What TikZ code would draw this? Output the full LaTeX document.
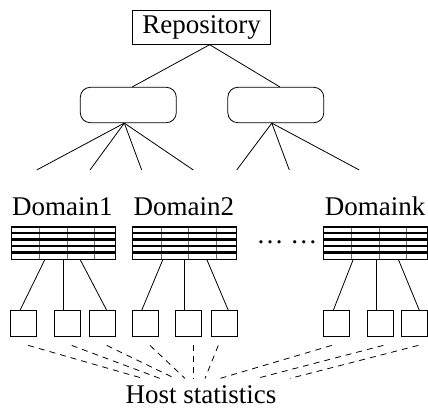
\documentclass[tikz,border=0pt]{standalone}
\usepackage{fontspec}
\setmainfont{Liberation Serif}
\usepackage{tikz}
\usetikzlibrary{positioning}
\definecolor{stackgray}{RGB}{110,110,110}

\tikzset{
  repobox/.style={draw,line width=0.8pt,minimum width=138,minimum height=33.6,inner sep=0pt},
  groupbox/.style={draw,line width=0.8pt,rounded corners=10pt,minimum width=96,minimum height=35.4,inner sep=0pt},
  stackbox/.style={draw,line width=0.8pt,minimum width=104,minimum height=33.3,inner sep=0pt,outer sep=0pt,
    path picture={
      \draw[stackgray,line width=0.4pt]
        ([xshift=28.3]path picture bounding box.north west) -- ([xshift=28.3]path picture bounding box.south west)
        ([xshift=55.7]path picture bounding box.north west) -- ([xshift=55.7]path picture bounding box.south west)
        ([xshift=83.3]path picture bounding box.north west) -- ([xshift=83.3]path picture bounding box.south west);
      \draw[line width=2.4pt]
        ([yshift=-0.9]path picture bounding box.north west) -- ([yshift=-0.9]path picture bounding box.north east)
        ([yshift=-7.2]path picture bounding box.north west) -- ([yshift=-7.2]path picture bounding box.north east)
        ([yshift=-13.6]path picture bounding box.north west) -- ([yshift=-13.6]path picture bounding box.north east)
        ([yshift=-20.0]path picture bounding box.north west) -- ([yshift=-20.0]path picture bounding box.north east)
        ([yshift=-26.5]path picture bounding box.north west) -- ([yshift=-26.5]path picture bounding box.north east);
    }},
  hostbox/.style={draw,line width=0.8pt,minimum size=26,inner sep=0pt},
  link/.style={line width=0.8pt},
  hostlink/.style={line width=0.8pt,dash pattern=on 6pt off 5pt},
}

\begin{document}
\begin{tikzpicture}[x=1pt,y=-1pt,font=\fontsize{27}{32}\selectfont]
  \useasboundingbox (0,0) rectangle (428,409);
  % Repository and the two groups
  \node[repobox] (repo) at (201.7,27.5) {Repository};
  \node[groupbox] (g1) at (128.3,105) {};
  \node[groupbox] (g2) at (275.8,105) {};
  \draw[link] ([xshift=8]repo.south) -- ([xshift=4]g1.north);
  \draw[link] ([xshift=8]repo.south) -- ([xshift=4]g2.north);
  % Free ends below the groups
  \coordinate (e1) at (36.7,170);
  \coordinate (e2) at (90,170);
  \coordinate (e3) at (141.7,170);
  \coordinate (e4) at (193.3,170);
  \coordinate (e5) at (236.7,170);
  \coordinate (e6) at (289.3,170);
  \coordinate (e7) at (359.3,170);
  \draw[link] ([xshift=-4]g1.south) -- (e1);
  \draw[link] ([xshift=-4]g1.south) -- (e2);
  \draw[link] ([xshift=-4]g1.south) -- (e3);
  \draw[link] ([xshift=-4]g1.south) -- (e4);
  \draw[link] ([xshift=-4]g2.south) -- (e5);
  \draw[link] ([xshift=-4]g2.south) -- (e6);
  \draw[link] ([xshift=-4]g2.south) -- (e7);
  % Domains
  \node[stackbox] (d1) at (63.3,242.6) {};
  \node[stackbox] (d2) at (184.5,242.6) {};
  \node[stackbox] (dk) at (375,242.6) {};
  \node[anchor=base west,inner sep=0pt] (t1) at ([xshift=0.7,yshift=10.5]d1.north west) {Domain1};
  \node[anchor=base west,inner sep=0pt] (t2) at ([xshift=1,yshift=10.5]d2.north west) {Domain2};
  \node[anchor=base west,inner sep=0pt] (tk) at ([xshift=1.7,yshift=10.5]dk.north west) {Domaink};
  \node[anchor=base,inner sep=0pt] (dots) at (287,243.5) {\ldots\ \ldots};
  % Hosts
  \node[hostbox] (h1) at (23.7,323.7) {};
  \node[hostbox] (h2) at (67.3,323.7) {};
  \node[hostbox] (h3) at (102.2,323.7) {};
  \node[hostbox] (h4) at (145.3,323.7) {};
  \node[hostbox] (h5) at (188.8,323.7) {};
  \node[hostbox] (h6) at (224,323.7) {};
  \node[hostbox] (h7) at (336.3,323.7) {};
  \node[hostbox] (h8) at (380,323.7) {};
  \node[hostbox] (h9) at (414.7,323.7) {};
  \draw[link] ([xshift=-18.3]d1.south) -- ([xshift=-3.7]h1.north);
  \draw[link] (d1.south) -- ([xshift=-4]h2.north);
  \draw[link] ([xshift=16.7]d1.south) -- ([xshift=4.5]h3.north);
  \draw[link] ([xshift=-21.5]d2.south) -- ([xshift=-3.6]h4.north);
  \draw[link] ([xshift=-0.5]d2.south) -- ([xshift=-4.8]h5.north);
  \draw[link] ([xshift=22.2]d2.south) -- ([xshift=4.3]h6.north);
  \draw[link] ([xshift=-21.7]dk.south) -- ([xshift=-3]h7.north);
  \draw[link] ([xshift=1.7]dk.south) -- ([xshift=-3.3]h8.north);
  \draw[link] ([xshift=23.3]dk.south) -- ([xshift=4.6]h9.north);
  % Host statistics
  \node[anchor=base,inner xsep=0pt,inner ysep=6.5pt] (hs) at (201,403) {Host statistics};
  \draw[hostlink] ([shift={(4.6,8.3)}]h1.south) -- ([xshift=-58]hs.north);
  \draw[hostlink] ([shift={(4.4,8.3)}]h2.south) -- ([xshift=-41]hs.north);
  \draw[hostlink] ([shift={(4.5,8.3)}]h3.south) -- ([xshift=-26]hs.north);
  \draw[hostlink] ([shift={(4.7,8.3)}]h4.south) -- ([xshift=-16]hs.north);
  \draw[hostlink] ([shift={(4.5,8.3)}]h5.south) -- ([xshift=-7.7]hs.north);
  \draw[hostlink] ([shift={(-5.7,8.3)}]h6.south) -- ([xshift=4]hs.north);
  \draw[hostlink] ([shift={(-4.6,8.3)}]h7.south) -- ([xshift=19]hs.north);
  \draw[hostlink] ([shift={(3.3,8.3)}]h8.south) -- ([xshift=55.7]hs.north);
  \draw[hostlink] ([shift={(3.6,8.3)}]h9.south) -- ([xshift=89]hs.north);
\end{tikzpicture}
\end{document}
